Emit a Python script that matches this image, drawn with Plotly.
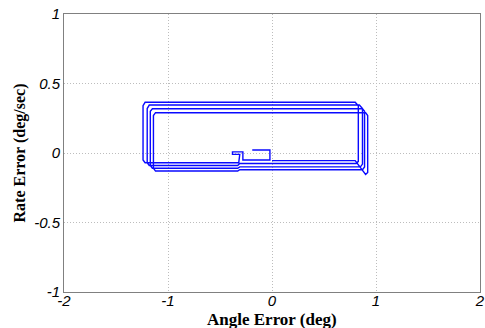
import plotly.graph_objects as go

# Trajectory vertices (angle error, rate error)
angle_err = [
    -0.19, -0.02, -0.02, -0.28, -0.28, -0.38, -0.38, -0.31, -0.32,
    -1.22, -1.24, -1.24, -1.22, 0.80, 0.83, 0.83, 0.81, -0.31, -0.33,
    -1.18, -1.20, -1.20, -1.18, 0.84, 0.87, 0.87, 0.85, -0.31, -0.33,
    -1.15, -1.17, -1.17, -1.15, 0.87, 0.89, 0.89, 0.87, -0.31, -0.33,
    -1.12, -1.14, -1.14, -1.12, 0.90, 0.92, 0.92, 0.90, 0.80, 0.00,
]
rate_err = [
    0.022, 0.022, -0.05, -0.05, 0.008, 0.008, -0.01, -0.01, -0.07,
    -0.07, -0.05, 0.34, 0.365, 0.365, 0.34, -0.06, -0.075, -0.075, -0.09,
    -0.09, -0.07, 0.32, 0.345, 0.345, 0.32, -0.08, -0.10, -0.10, -0.11,
    -0.11, -0.09, 0.30, 0.318, 0.318, 0.30, -0.10, -0.12, -0.12, -0.13,
    -0.13, -0.11, 0.27, 0.29, 0.29, 0.27, -0.14, -0.155, -0.055, -0.055,
]

x_ticks = [-2, -1, 0, 1, 2]
y_ticks = [-1, -0.5, 0, 0.5, 1]

fig = go.Figure()
fig.add_trace(go.Scatter(
    x=angle_err, y=rate_err, mode="lines",
    line=dict(color="#0a0aff", width=1.4),
    showlegend=False,
))

axis_common = dict(
    showline=True, linecolor="#808080", linewidth=1, mirror=True,
    showgrid=True, gridcolor="#bdbdbd", griddash="1px,2px", gridwidth=1,
    zeroline=False, ticks="", automargin=False,
    tickfont=dict(family="Liberation Sans, Arial", size=15, color="black", style="italic"),
)

fig.update_layout(
    width=485, height=328,
    margin=dict(l=64, r=5, t=14, b=36),
    paper_bgcolor="white", plot_bgcolor="white",
    xaxis=dict(range=[-2, 2], tickvals=x_ticks, ticktext=[str(v) for v in x_ticks],
               ticklabelstandoff=-5, **axis_common),
    yaxis=dict(range=[-1, 1], tickvals=y_ticks, ticktext=["-1", "-0.5", "0", "0.5", "1"],
               title=dict(text="Rate Error (deg/sec)", standoff=4,
                          font=dict(family="Liberation Serif", size=16, color="black", weight="bold")),
               **axis_common),
    annotations=[dict(
        text="<b>Angle Error (deg)</b>", xref="paper", yref="paper",
        x=0.5, y=-0.1, xanchor="center", yanchor="middle", showarrow=False,
        font=dict(family="Liberation Serif", size=17, color="black"),
    )],
)

fig.write_html("out.html")
